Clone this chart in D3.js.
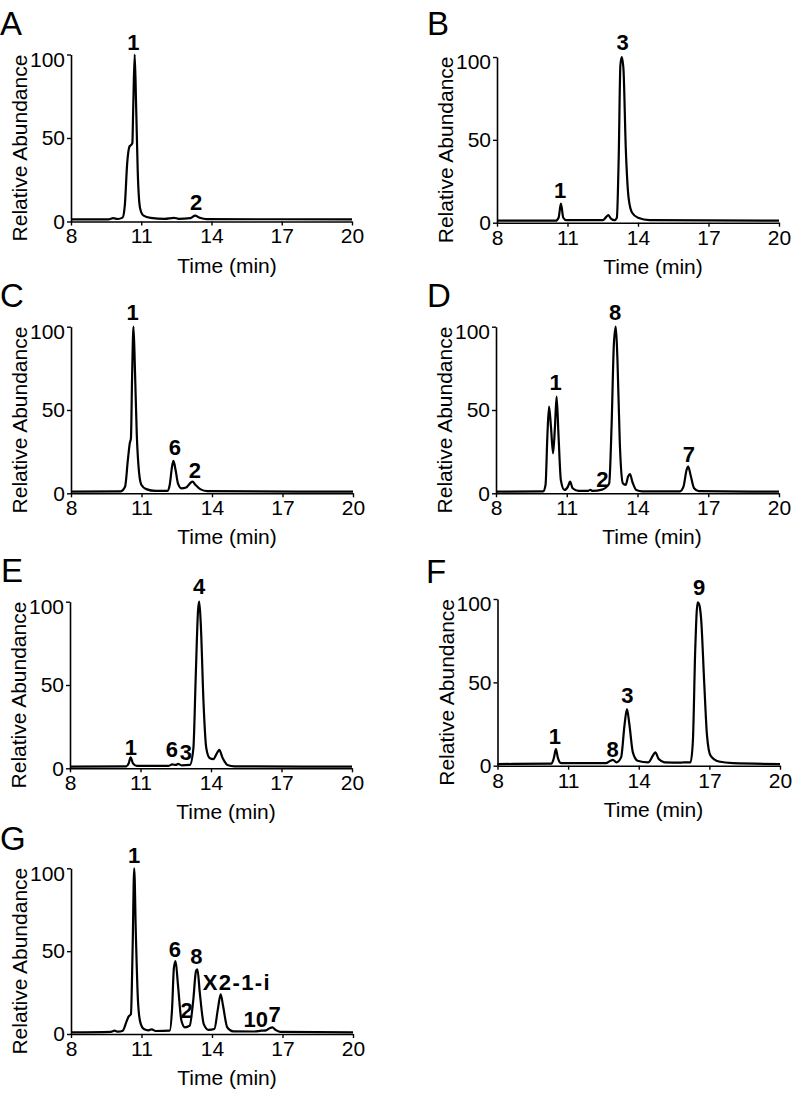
<!DOCTYPE html>
<html>
<head>
<meta charset="utf-8">
<script src="https://cdn.jsdelivr.net/npm/d3@7"></script>
<style>
html,body{margin:0;padding:0;background:#fff;}
svg{display:block;font-family:"Liberation Sans",Arial,Helvetica,sans-serif;}
</style>
</head>
<body>
<svg id="chart" width="796" height="1095"></svg>
<script>
// ---- data ----
const xTicks = [8, 11, 14, 17, 20];
const yTicks = [0, 50, 100];
const xTitle = "Time (min)";
const yTitle = "Relative Abundance";
const panelKeys = ["A", "B", "C", "D", "E", "F", "G"];

const tA = [8, 9.6, 9.8, 10.0, 10.2, 10.3, 10.4, 10.5, 10.58, 10.62, 10.66, 10.72, 10.78, 10.85, 10.95, 11.1, 11.4, 12.0, 12.4, 12.6, 13.1, 13.3, 13.5, 13.8, 20];
const vA = [1.3, 1.3, 2.0, 1.5, 2.3, 10, 35, 45, 46, 47, 70, 100, 70, 30, 8, 3.5, 2.2, 1.6, 2.2, 1.6, 2.0, 3.5, 2.2, 1.4, 1.3];

const tB = [8, 10.5, 10.62, 10.72, 10.82, 10.95, 12.5, 12.65, 12.73, 12.85, 13.0, 13.1, 13.18, 13.25, 13.31, 13.38, 13.48, 13.6, 13.75, 14.0, 14.5, 20];
const vB = [1.2, 1.2, 3, 11.5, 3, 1.5, 1.5, 3.5, 4.6, 2.5, 1.5, 3, 40, 95, 100, 93, 45, 15, 6, 3, 1.6, 1.2];

const tC = [8, 10.1, 10.3, 10.42, 10.5, 10.55, 10.6, 10.66, 10.72, 10.8, 10.9, 11.0, 11.2, 11.6, 12.1, 12.2, 12.3, 12.36, 12.45, 12.55, 12.7, 12.9, 13.1, 13.17, 13.3, 13.5, 13.8, 20];
const vC = [1, 1.2, 4, 20, 30, 33, 70, 100, 75, 35, 12, 5, 2.5, 1.4, 1.4, 5, 16, 19.5, 14, 6, 3, 3.5, 6.5, 7, 5, 2.5, 1.3, 1];

const tD = [8, 10.0, 10.1, 10.18, 10.25, 10.33, 10.42, 10.5, 10.57, 10.65, 10.75, 10.9, 11.05, 11.14, 11.25, 11.5, 11.9, 12.0, 12.1, 12.5, 12.7, 12.8, 12.9, 13.0, 13.08, 13.15, 13.25, 13.38, 13.5, 13.6, 13.68, 13.78, 13.95, 14.2, 15.8, 15.95, 16.08, 16.15, 16.25, 16.4, 16.6, 20];
const vD = [1, 1.2, 5, 35, 52, 40, 24, 40, 58, 35, 8, 2, 4, 7, 3, 1.4, 1.5, 2, 1.4, 2.2, 4, 6, 40, 90, 100, 80, 30, 6, 5, 10, 11.5, 7, 2, 1.2, 1.2, 4, 14, 16, 11, 3, 1.3, 1];

const tE = [8, 10.4, 10.5, 10.58, 10.68, 10.85, 12.2, 12.35, 12.5, 12.6, 12.75, 13.1, 13.25, 13.35, 13.45, 13.5, 13.57, 13.68, 13.8, 13.95, 14.1, 14.25, 14.35, 14.5, 14.7, 15.0, 20];
const vE = [1, 1.2, 3, 6.5, 3, 1.4, 1.5, 2.3, 2, 2.6, 1.8, 2, 12, 55, 95, 100, 85, 40, 12, 6, 5.5, 9, 11, 6, 2, 1.2, 1];

const tF = [8, 10.3, 10.4, 10.48, 10.56, 10.7, 12.6, 12.8, 12.9, 13.05, 13.25, 13.4, 13.5, 13.6, 13.75, 13.95, 14.4, 14.6, 14.7, 14.85, 15.1, 15.8, 15.9, 16.2, 16.3, 16.4, 16.5, 16.56, 16.65, 16.78, 16.9, 17.05, 17.4, 18, 20];
const vF = [1, 1.3, 5, 10, 5, 1.5, 1.5, 3, 3.5, 2, 5, 25, 34, 25, 8, 3, 2, 6, 8, 4, 2, 1.8, 2, 2, 15, 70, 98, 97, 88, 50, 18, 6, 2.5, 1.5, 1];

const tG = [8, 9.7, 9.85, 10.0, 10.2, 10.35, 10.45, 10.55, 10.62, 10.69, 10.76, 10.85, 10.95, 11.1, 11.3, 11.43, 11.6, 12.2, 12.3, 12.38, 12.45, 12.55, 12.7, 12.85, 13.05, 13.2, 13.32, 13.38, 13.48, 13.65, 13.85, 14.1, 14.25, 14.37, 14.47, 14.65, 14.9, 15.8, 16.1, 16.3, 16.45, 16.57, 16.7, 16.9, 20];
const vG = [1, 1.3, 2, 1.4, 2, 7, 10.5, 12, 50, 100, 60, 20, 7, 3, 2.2, 2.8, 1.8, 2, 15, 40, 44, 30, 8, 4, 5, 20, 38, 39, 25, 6, 2.5, 3, 15, 24, 17, 4, 1.6, 1.5, 2, 2.2, 3.5, 4, 2.5, 1.3, 1];

// peak labels: text, time (min), abundance at label baseline
const labelsA = [["1", 10.66, 102.6], ["2", 13.34, 6.6]];
const labelsB = [["3", 13.35, 104], ["1", 10.69, 14.7]];
const labelsC = [["1", 10.62, 104], ["6", 12.42, 23], ["2", 13.27, 9.4]];
const labelsD = [["8", 13.05, 104], ["1", 10.53, 62], ["2", 12.51, 4], ["7", 16.18, 19]];
const labelsE = [["4", 13.49, 104.4], ["1", 10.59, 8], ["6", 12.33, 7], ["3", 12.93, 5]];
const labelsF = [["9", 16.56, 102.4], ["3", 13.52, 37.4], ["8", 12.89, 5.4], ["1", 10.44, 12.8]];
const labelsG = [["1", 10.69, 103], ["6", 12.42, 46.7], ["8", 13.34, 42], ["X2-1-i", 15.03, 26.6], ["2", 12.92, 9.5], ["10", 15.86, 4.4], ["7", 16.67, 7.4]];

const seriesT = {A: tA, B: tB, C: tC, D: tD, E: tE, F: tF, G: tG};
const seriesV = {A: vA, B: vB, C: vC, D: vD, E: vE, F: vF, G: vG};
const seriesL = {A: labelsA, B: labelsB, C: labelsC, D: labelsD, E: labelsE, F: labelsF, G: labelsG};

// ---- layout (pixel geometry only) ----
const layout = {
  A: {x0: 71,  x1: 352, yTop: 54.5,  yBot: 221.5, lx: 0,   ly: 35},
  B: {x0: 497, x1: 779, yTop: 57,    yBot: 222.7, lx: 427, ly: 35},
  C: {x0: 71,  x1: 353, yTop: 326.7, yBot: 493.3, lx: 0,   ly: 307},
  D: {x0: 496, x1: 779, yTop: 326.7, yBot: 493.3, lx: 427, ly: 307},
  E: {x0: 70,  x1: 352, yTop: 601.7, yBot: 768.3, lx: 1,   ly: 582},
  F: {x0: 497.5, x1: 780, yTop: 599, yBot: 765.7, lx: 426, ly: 583},
  G: {x0: 71,  x1: 353, yTop: 868.3, yBot: 1034,  lx: 0,   ly: 850}
};

const svg = d3.select("#chart");

panelKeys.forEach(k => {
  const L = layout[k];
  const x = d3.scaleLinear().domain([8, 20]).range([L.x0, L.x1]);
  const y = d3.scaleLinear().domain([0, 100]).range([L.yBot, L.yTop]);
  const g = svg.append("g");

  // panel letter
  g.append("text").attr("x", L.lx).attr("y", L.ly)
    .attr("font-size", 33).attr("fill", "#000").text(k);

  // x axis
  const xa = g.append("g").attr("transform", `translate(0,${L.yBot})`)
    .call(d3.axisBottom(x).tickValues(xTicks).tickSize(4).tickSizeOuter(0).tickPadding(3));
  // y axis
  const ya = g.append("g").attr("transform", `translate(${L.x0},0)`)
    .call(d3.axisLeft(y).tickValues(yTicks).tickSize(4).tickSizeOuter(0).tickPadding(2));
  [xa, ya].forEach(a => {
    a.select(".domain").attr("stroke", "#000").attr("stroke-width", 1.6);
    a.selectAll(".tick line").attr("stroke", "#000").attr("stroke-width", 1.4);
    a.selectAll(".tick text").attr("font-size", 21).attr("fill", "#000")
      .attr("font-family", "Liberation Sans, Arial, sans-serif");
  });
  ya.selectAll(".tick text").filter(d => d === 100).attr("dy", "0.32em").attr("y", 5);

  // axis titles
  g.append("text").attr("x", L.x0 + 156).attr("y", L.yBot + 51)
    .attr("text-anchor", "middle").attr("font-size", 21).text(xTitle);
  const cy = (L.yTop + L.yBot) / 2 + 10;
  g.append("text").attr("transform", `translate(${L.x0 - 44},${cy}) rotate(-90)`)
    .attr("text-anchor", "middle").attr("font-size", 21).text(yTitle);

  // trace
  const pts = seriesT[k].map((t, i) => [t, seriesV[k][i]]);
  const line = d3.line().x(d => x(d[0])).y(d => y(d[1])).curve(d3.curveMonotoneX);
  g.append("path").datum(pts).attr("d", line)
    .attr("fill", "none").attr("stroke", "#000").attr("stroke-width", 2.2)
    .attr("stroke-linejoin", "round");

  // peak labels
  g.selectAll("text.peak").data(seriesL[k]).enter().append("text")
    .attr("class", "peak")
    .attr("x", d => x(d[1])).attr("y", d => y(d[2]))
    .attr("text-anchor", "middle").attr("font-size", 22).attr("font-weight", "bold")
    .attr("textLength", d => d[0] === "X2-1-i" ? 67 : null)
    .attr("lengthAdjust", "spacing")
    .text(d => d[0]);
});
</script>
</body>
</html>
